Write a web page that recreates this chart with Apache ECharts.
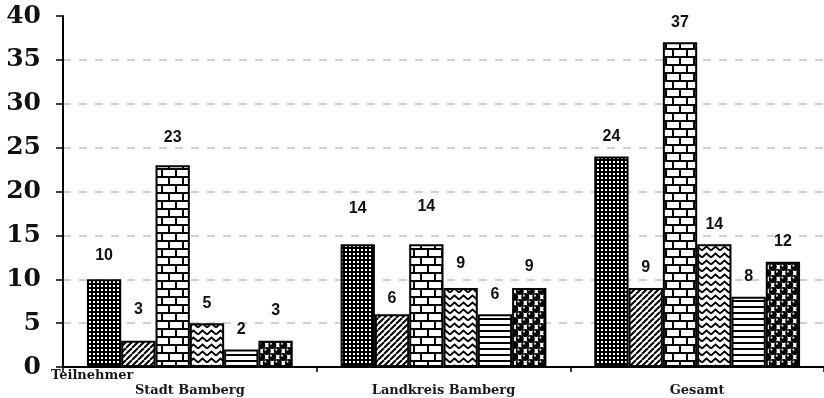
<!DOCTYPE html>
<html>
<head>
<meta charset="utf-8">
<style>
  html, body { margin: 0; padding: 0; background: #fff; }
  #chart { width: 824px; height: 398px; }
</style>
<script src="https://cdn.jsdelivr.net/npm/echarts@6/dist/echarts.min.js"></script>
</head>
<body>
<div id="chart"></div>
<script>
// Gruppen auf der x-Achse
const categories = ['Stadt Bamberg', 'Landkreis Bamberg', 'Gesamt'];
const yTicks = [0, 5, 10, 15, 20, 25, 30, 35, 40];

// Teilnehmerzahlen je Reihe (Reihenfolge der Balken in jeder Gruppe)
const seriesA = [10, 14, 24];
const seriesB = [3, 6, 9];
const seriesC = [23, 14, 37];
const seriesD = [5, 9, 14];
const seriesE = [2, 6, 8];
const seriesF = [3, 9, 12];

// zusätzlicher Abstand der Wertbeschriftungen über dem Balken (px)
const labelLift = [
  [4, 16, 0],
  [11, -4, 0],
  [8, 18, 0],
  [0, 4, 0],
  [0, 0, 0],
  [10, 1, 0]
];

function tile(w, h, draw) {
  const c = document.createElement('canvas');
  c.width = w; c.height = h;
  const g = c.getContext('2d');
  draw(g, w, h);
  return c;
}

// Punktraster: schwarz mit kleinen weißen Punkten
const patDots = tile(4, 4, (g) => {
  g.fillStyle = '#000'; g.fillRect(0, 0, 4, 4);
  g.fillStyle = '#fff'; g.fillRect(1, 1, 2, 2);
});

// Schräge Schraffur
const patDiag = tile(6, 6, (g, w, h) => {
  g.fillStyle = '#fff'; g.fillRect(0, 0, w, h);
  g.strokeStyle = '#000'; g.lineWidth = 2;
  for (let k = -1; k <= 1; k++) {
    g.beginPath();
    g.moveTo(k * w, h);
    g.lineTo(k * w + w, 0);
    g.stroke();
  }
});

// Mauerwerk
const patBrick = tile(14, 16, (g, w, h) => {
  g.fillStyle = '#fff'; g.fillRect(0, 0, w, h);
  g.fillStyle = '#000';
  g.fillRect(0, 0, w, 2);
  g.fillRect(0, 8, w, 2);
  g.fillRect(0, 0, 2, 8);
  g.fillRect(7, 8, 2, 8);
});

// Zickzack-Linien
const patZig = tile(9, 7, (g, w, h) => {
  g.fillStyle = '#fff'; g.fillRect(0, 0, w, h);
  g.strokeStyle = '#000'; g.lineWidth = 1.7;
  for (let k = -1; k <= 1; k++) {
    const oy = k * h;
    g.beginPath();
    g.moveTo(0, oy + 5.5);
    g.lineTo(4.5, oy + 1.5);
    g.lineTo(9, oy + 5.5);
    g.stroke();
  }
});

// Waagerechte Streifen
const patHoriz = tile(4, 6, (g, w, h) => {
  g.fillStyle = '#fff'; g.fillRect(0, 0, w, h);
  g.fillStyle = '#000'; g.fillRect(0, 0, w, 2);
});

// Kugeln
const patBalls = tile(11, 12, (g, w, h) => {
  g.fillStyle = '#fff'; g.fillRect(0, 0, w, h);
  const centers = [[2.75, 3], [8.25, 9]];
  for (const [cx, cy] of centers) {
    for (let dx = -w; dx <= w; dx += w) {
      for (let dy = -h; dy <= h; dy += h) {
        g.fillStyle = '#000';
        g.beginPath(); g.arc(cx + dx, cy + dy, 4, 0, Math.PI * 2); g.fill();
        g.fillStyle = '#d8d8d8';
        g.beginPath(); g.arc(cx + dx - 1.3, cy + dy - 1.3, 1.1, 0, Math.PI * 2); g.fill();
      }
    }
  }
});

const seriesValues = [seriesA, seriesB, seriesC, seriesD, seriesE, seriesF];
const patterns = [patDots, patDiag, patBrick, patZig, patHoriz, patBalls];

const series = seriesValues.map((vals, si) => ({
  type: 'bar',
  name: 'Reihe ' + (si + 1),
  barWidth: 34.3,
  barGap: '0%',
  data: vals.map((v, ci) => ({
    value: v,
    label: { distance: 12 + labelLift[si][ci] }
  })),
  itemStyle: {
    color: { image: patterns[si], repeat: 'repeat' },
    borderColor: '#000',
    borderWidth: 2
  },
  label: {
    show: true,
    position: 'top',
    color: '#111',
    fontFamily: 'Liberation Sans',
    fontWeight: 'bold',
    fontSize: 16
  },
  emphasis: { disabled: true },
  animation: false
}));

const chart = echarts.init(document.getElementById('chart'), null, { renderer: 'canvas' });
chart.setOption({
  backgroundColor: '#fff',
  animation: false,
  grid: { left: 63, top: 16, width: 767, height: 351, containLabel: false },
  xAxis: {
    type: 'category',
    data: categories,
    axisLine: { lineStyle: { color: '#000', width: 2 } },
    axisTick: { show: true, length: 5, lineStyle: { color: '#000', width: 1.5 } },
    axisLabel: {
      color: '#1a1a1a',
      fontFamily: 'DejaVu Serif',
      fontWeight: 'bold',
      fontSize: 13,
      margin: 17
    }
  },
  yAxis: {
    type: 'value',
    min: yTicks[0],
    max: yTicks[yTicks.length - 1],
    interval: yTicks[1] - yTicks[0],
    axisLine: { show: true, lineStyle: { color: '#000', width: 2 } },
    axisTick: { show: true, length: 7, lineStyle: { color: '#000', width: 1.5 } },
    axisLabel: {
      color: '#111',
      fontFamily: 'DejaVu Serif',
      fontWeight: 'bold',
      fontSize: 25,
      margin: 22
    },
    splitLine: {
      show: true,
      showMinLine: false,
      showMaxLine: false,
      lineStyle: { color: '#c4c4c4', type: [8, 8], width: 1.5 }
    }
  },
  graphic: [{
    type: 'text',
    left: 51,
    top: 369,
    style: {
      text: 'Teilnehmer',
      fill: '#1a1a1a',
      font: 'bold 13px "DejaVu Serif"'
    }
  }],
  series: series
});
</script>
</body>
</html>
